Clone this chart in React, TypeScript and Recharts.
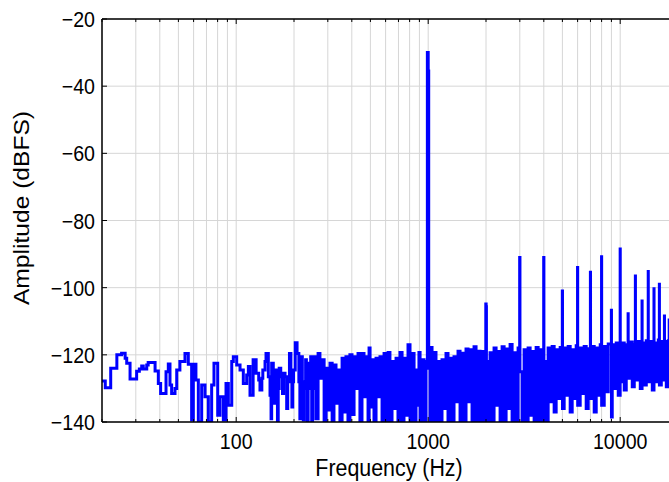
import React from 'react';
import { LineChart, Line, XAxis, YAxis, CartesianGrid } from 'recharts';

// Spectrum values [frequency Hz, amplitude dBFS]
const LOW_BAND: [number, number][] = [
  [20, -127.8], [20.8, -129.8], [22.2, -124], [23.9, -120], [25.3, -119.5], [26.4, -121],
  [26.9, -122.5], [28, -127.2], [30.3, -124.9], [31.3, -124.2], [32.2, -123.3], [32.8, -124.2],
  [34.2, -123], [34.8, -122.3], [37.8, -124.8], [39.3, -128.5], [40.4, -131.5], [43.1, -125],
  [44.3, -122.7], [45.2, -129], [46.1, -131.5], [48, -130], [49, -124.5], [50.9, -122],
  [54.1, -119.6], [56.3, -122.8], [58.6, -139.4], [59.8, -122.8], [61.7, -127.5], [63.5, -140],
  [66.1, -129], [68.8, -132.5], [71.6, -140], [74.5, -129], [76.6, -122.5], [80.1, -138],
  [82.3, -132.5], [85.7, -139.4], [88.5, -128.5], [91, -135], [94.8, -122], [96.6, -120.6],
];

const MID_BAND: [number, number][] = [
  [100.6, -123], [104.7, -124.5], [108.9, -128.5], [113.4, -126], [115.7, -123.5], [118, -132],
  [122.5, -121.5], [127, -125.5], [131, -127.5], [133, -130.5], [136, -127], [137.6, -124.5],
  [141.3, -122], [143, -119.6], [147, -126.5], [150, -132], [151.9, -139], [153, -122.5],
  [156, -128], [158, -134.4], [159.5, -128], [161, -124.5], [162.5, -132], [164, -140],
  [165.5, -130], [167.5, -124], [170.6, -126.5], [174.2, -131.5], [176.6, -125.5], [179.6, -126.5],
  [183.2, -136], [185.5, -128], [189.4, -119.6], [192.7, -127], [195, -135.5], [197, -128],
  [199, -124.5], [203, -116.4], [207.5, -119.6], [212, -128], [214.6, -139], [217, -128],
  [219, -120.6], [221, -128], [223.6, -139.4], [226, -128], [229.9, -121.5], [232, -130],
  [234.5, -140], [237, -130], [239.3, -122.5], [244.3, -120.6], [246, -130], [247.3, -140],
  [250, -130], [252.5, -122],
];

const DENSE_BAND_LOW: [number, number][] = [
  [254, -120.6], [260, -139], [267, -119.6], [273, -127], [280, -121.5], [287, -140], [294, -124],
  [301, -136.4], [308, -122.5], [316, -140], [323, -123], [331, -134.4], [339, -124.5], [347, -140],
  [356, -121], [364, -137], [373, -120.6], [382, -140], [391, -120], [401, -137.8], [411, -120.6],
  [421, -130], [431, -119.6], [441, -140], [452, -119.6], [463, -132.5], [474, -120.6], [486, -140],
  [492, -118], [498, -135.5], [510, -121.5], [522, -140], [535, -121], [548, -132.5], [561, -120.6],
  [575, -140], [589, -119.6], [603, -140], [618, -119.3], [632, -140], [648, -122], [664, -136],
  [680, -121], [696, -140], [713, -119.3], [731, -140], [748, -121], [766, -138], [785, -117],
  [804, -140], [824, -119.6], [844, -140], [864, -124.5], [885, -135], [895, -119.3], [907, -140],
  [929, -121.5], [951, -140], [974, -122],
];

const DENSE_BAND_HIGH: [number, number][] = [
  [1022, -140], [1035, -117.8], [1047, -140], [1072, -119.3], [1098, -140], [1125, -122], [1152, -140],
  [1180, -121.5], [1209, -136], [1238, -119.6], [1268, -140], [1299, -121], [1331, -140], [1363, -120.6],
  [1396, -134], [1430, -118.9], [1465, -140], [1500, -119.5], [1537, -140], [1574, -118.3], [1612, -134],
  [1652, -118.5], [1692, -140], [1733, -117.6], [1775, -140], [1818, -118.9], [1862, -140], [1908, -119],
  [1954, -140], [2050, -140], [2100, -119.4], [2151, -140], [2203, -118], [2257, -135], [2312, -119],
  [2368, -140], [2426, -117.6], [2485, -140], [2545, -118.3], [2607, -136], [2670, -116.9], [2735, -140],
  [2802, -119.4], [2870, -140], [2939, -118], [3084, -140], [3159, -118.5], [3236, -140], [3314, -118],
  [3395, -138], [3478, -119], [3562, -140], [3649, -117.8], [3737, -140], [3828, -118.5], [3921, -140],
  [4114, -140], [4214, -118], [4317, -134], [4422, -117.5], [4529, -137], [4639, -118.5], [4752, -133],
  [4868, -117.8], [5107, -118], [5231, -132], [5358, -117.5], [5489, -137], [5622, -118.5], [5759, -133],
  [5899, -117.3], [6189, -118], [6339, -131.5], [6493, -117.5], [6651, -136], [6813, -118.2],
  [7148, -117.5], [7322, -137], [7500, -118], [7682, -132], [7869, -117], [8256, -117.5], [8457, -131],
  [8663, -116.8], [9089, -117], [9310, -130], [9536, -116.5], [9768, -132], [10248, -116.5],
  [10497, -130.5], [10752, -117], [11282, -116.2], [11556, -129.5], [11837, -117], [12420, -116],
  [12722, -130], [13348, -129], [13672, -115.8], [14345, -116], [14694, -130.5], [15417, -128],
  [15792, -115.6], [16370, -116], [16770, -127.5], [17385, -129.5], [17807, -115.8], [18240, -116],
  [18683, -129], [19300, -116], [20000, -128],
];

// Fundamental tone and harmonics: peak bin followed by the return to the noise floor
const TONE_PEAKS: [number, number][] = [
  [990, -30], [1000, -35.5], [1006, -124],
  [1995, -104.9], [2003, -105.7], [2010, -122],
  [2995, -91], [3005, -125],
  [3995, -91], [4005, -122],
  [4995, -101], [5005, -136],
  [5995, -94], [6005, -135],
  [6995, -95.4], [7005, -133],
  [7995, -90.8], [8005, -135],
  [8995, -106.7], [9005, -138.5],
  [9995, -88.5], [10005, -128],
  [10995, -107.8], [11005, -127],
  [11995, -96.5], [12005, -127.5],
  [12995, -104], [13005, -116.5],
  [13995, -95.2], [14005, -128],
  [14995, -100.3], [15005, -116.5],
  [15995, -99], [16005, -129],
  [16995, -108.4], [17005, -116],
  [17995, -109.6], [18005, -128],
];

const X_TICKS = [20, 30, 40, 50, 60, 70, 80, 90, 100, 200, 300, 400, 500, 600, 700, 800, 900,
  1000, 2000, 3000, 4000, 5000, 6000, 7000, 8000, 9000, 10000, 20000];
const X_LABELED = [100, 1000, 10000];
const Y_TICKS = [-140, -120, -100, -80, -60, -40, -20];

const DATA = [...LOW_BAND, ...MID_BAND, ...DENSE_BAND_LOW, ...TONE_PEAKS, ...DENSE_BAND_HIGH]
  .sort((a, b) => a[0] - b[0])
  .map(([f, a]) => ({ f, a }));

const FONT = '"Liberation Sans", Arial, Helvetica, sans-serif';
const PLOT_LEFT = 102;
const PLOT_TOP = 19;
const PLOT_BOTTOM = 422;
const STRETCH = 1.15;
const TICK_FONT = 19.6;
const LABEL_FONT = 21.4;

const XTickBottom = (props: any) => {
  const { x, payload } = props;
  const v = payload.value;
  const major = X_LABELED.includes(v);
  return (
    <g>
      <line x1={x} x2={x} y1={PLOT_BOTTOM} y2={PLOT_BOTTOM - (major ? 5 : 3)} stroke="#000" strokeWidth={1} />
      {major && (
        <text transform={`translate(${x},449) scale(1,${STRETCH})`} textAnchor="middle"
          fontSize={TICK_FONT} fontFamily={FONT} fill="#000">{v}</text>
      )}
    </g>
  );
};

const XTickTop = (props: any) => {
  const { x, payload } = props;
  const major = X_LABELED.includes(payload.value);
  return (
    <line x1={x} x2={x} y1={PLOT_TOP} y2={PLOT_TOP + (major ? 5 : 3)} stroke="#000" strokeWidth={1} />
  );
};

const YTick = (props: any) => {
  const { y, payload } = props;
  return (
    <g>
      <line x1={PLOT_LEFT} x2={PLOT_LEFT + 5} y1={y} y2={y} stroke="#000" strokeWidth={1} />
      <text transform={`translate(95,${y + 8}) scale(1,${STRETCH})`} textAnchor="end"
        fontSize={TICK_FONT} fontFamily={FONT} fill="#000">
        {String(payload.value).replace('-', '\u2212')}
      </text>
    </g>
  );
};

export default function App() {
  return (
    <div style={{ position: 'absolute', left: 0, top: 0, width: 669, height: 482, overflow: 'hidden', background: '#fff' }}>
      <LineChart width={700} height={482} data={DATA} margin={{ top: 0, right: 22, bottom: 0, left: 0 }}>
        <CartesianGrid stroke="#d6d6d6" strokeWidth={1} />
        <XAxis
          dataKey="f" type="number" scale="log" domain={[20, 20000]} allowDataOverflow
          ticks={X_TICKS} interval={0} height={60} tickLine={false}
          axisLine={{ stroke: '#000', strokeWidth: 1.5 }} tick={<XTickBottom />}
        />
        <XAxis
          xAxisId="top" orientation="top" dataKey="f" type="number" scale="log" domain={[20, 20000]}
          allowDataOverflow ticks={X_TICKS} interval={0} height={19} tickLine={false}
          axisLine={{ stroke: '#000', strokeWidth: 1.5 }} tick={<XTickTop />}
        />
        <YAxis
          type="number" domain={[-140, -20]} ticks={Y_TICKS} interval={0} width={102} tickLine={false}
          axisLine={{ stroke: '#000', strokeWidth: 1.5 }} tick={<YTick />} allowDataOverflow
        />
        <Line
          dataKey="a" type="stepAfter" stroke="#0000ff" strokeWidth={3} dot={false}
          isAnimationActive={false} strokeLinejoin="miter"
        />
      </LineChart>
      <svg width={669} height={482} style={{ position: 'absolute', left: 0, top: 0, pointerEvents: 'none' }}>
        <text transform={`translate(389,476) scale(1,${STRETCH})`} textAnchor="middle"
          fontSize={LABEL_FONT} fontFamily={FONT} fill="#000">Frequency (Hz)</text>
        <text transform={`translate(29,208) scale(1,${STRETCH}) rotate(-90)`} textAnchor="middle"
          fontSize={LABEL_FONT} fontFamily={FONT} fill="#000">Amplitude (dBFS)</text>
      </svg>
    </div>
  );
}
